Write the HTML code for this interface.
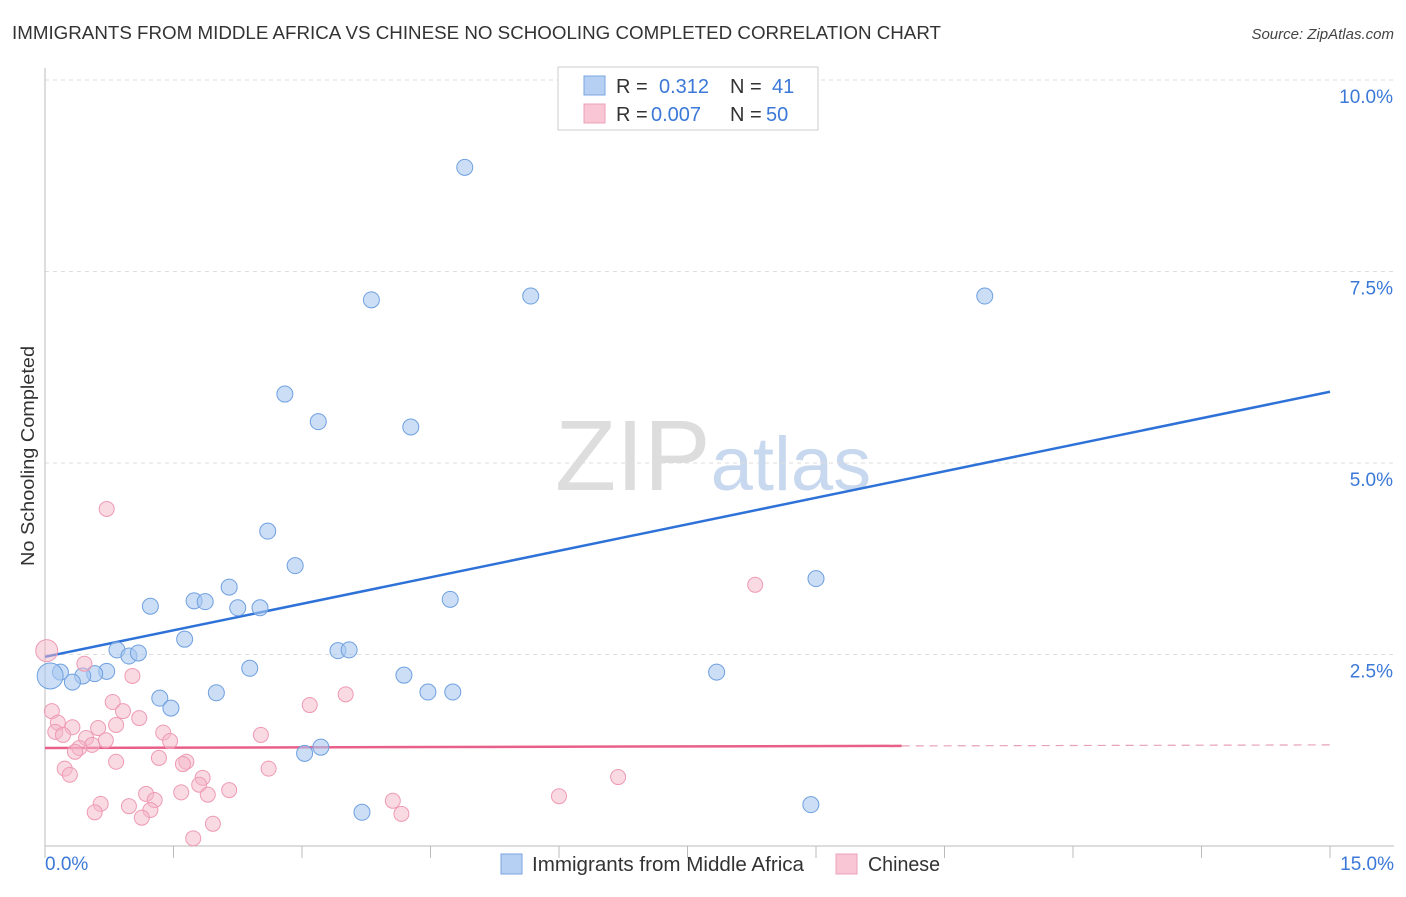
<!DOCTYPE html>
<html><head><meta charset="utf-8">
<style>
body{margin:0;background:#fff;font-family:"Liberation Sans",sans-serif;}
svg text{font-family:"Liberation Sans",sans-serif;}
</style></head>
<body>
<svg id="chart" width="1406" height="892" xmlns="http://www.w3.org/2000/svg">
<text x="12" y="39" font-size="18" fill="#333" textLength="929" lengthAdjust="spacingAndGlyphs">IMMIGRANTS FROM MIDDLE AFRICA VS CHINESE NO SCHOOLING COMPLETED CORRELATION CHART</text>
<text x="1394" y="39" font-size="15" fill="#444" font-style="italic" text-anchor="end">Source: ZipAtlas.com</text>
<text transform="translate(34,456) rotate(-90)" font-size="18" fill="#333" text-anchor="middle" textLength="220" lengthAdjust="spacingAndGlyphs">No Schooling Completed</text>
<text x="555" y="490" font-size="100" fill="#ddd" font-family="Liberation Serif"><tspan>ZIP</tspan><tspan fill="#c8d8ee" font-family="Liberation Sans" font-size="76">atlas</tspan></text>
<g id="grid"></g>
<g id="axes"></g>
<g id="trend"></g>
<g id="points"></g>
<g>
<rect x="558" y="67" width="260" height="63" fill="#fff" stroke="#ccc"/>
<rect x="584" y="76" width="21" height="19" fill="#b5d0f2" stroke="#7aa6e0"/>
<text x="616" y="93" font-size="20" fill="#333">R = </text><text x="659" y="93" font-size="20" fill="#3b78d8">0.312</text>
<text x="730" y="93" font-size="20" fill="#333">N = </text><text x="772" y="93" font-size="20" fill="#3b78d8">41</text>
<rect x="584" y="104" width="21" height="19" fill="#f8c6d4" stroke="#eea0b8"/>
<text x="616" y="121" font-size="20" fill="#333">R = </text><text x="651" y="121" font-size="20" fill="#3b78d8">0.007</text>
<text x="730" y="121" font-size="20" fill="#333">N = </text><text x="766" y="121" font-size="20" fill="#3b78d8">50</text>
</g>
<g>
<rect x="501" y="854" width="21" height="20" fill="#b5d0f2" stroke="#7aa6e0"/>
<text x="532" y="871" font-size="20" fill="#333" textLength="272" lengthAdjust="spacingAndGlyphs">Immigrants from Middle Africa</text>
<rect x="836" y="854" width="21" height="20" fill="#f8c6d4" stroke="#eea0b8"/>
<text x="868" y="871" font-size="20" fill="#333" textLength="72" lengthAdjust="spacingAndGlyphs">Chinese</text>
</g>
</svg>
<script>
const yTicks=[2.5,5,7.5,10];
const yTickLabels=["2.5%","5.0%","7.5%","10.0%"];
const xTickVals=[0,1.5,3,4.5,6,7.5,9,10.5,12,13.5,15];
const blueX=[4.90,3.81,5.67,10.97,2.80,3.19,4.27,2.60,2.92,9.00,4.73,1.23,1.74,1.87,2.15,2.25,2.51,1.63,0.84,0.98,1.09,3.42,3.55,2.39,7.84,4.19,0.72,0.58,0.44,0.32,0.18,0.06,1.34,1.47,2.00,4.47,4.76,3.22,3.03,3.70,8.94];
const blueY=[8.86,7.13,7.18,7.18,5.90,5.54,5.47,4.11,3.66,3.49,3.22,3.13,3.20,3.19,3.38,3.11,3.11,2.70,2.56,2.48,2.52,2.55,2.56,2.32,2.27,2.23,2.28,2.25,2.22,2.14,2.27,2.22,1.93,1.80,2.00,2.01,2.01,1.29,1.21,0.44,0.54];
const pinkX=[0.72,8.29,0.02,0.46,1.02,3.51,3.09,0.79,0.08,0.91,1.10,0.15,0.32,0.62,0.83,0.12,0.21,1.38,2.52,0.48,0.71,1.46,0.55,0.40,0.35,1.33,1.65,0.83,0.23,2.61,0.29,1.84,6.69,1.80,2.15,1.18,1.59,1.90,6.00,1.28,0.65,0.98,4.06,1.23,0.58,1.13,4.16,1.96,1.73,1.61];
const pinkY=[4.40,3.41,2.55,2.38,2.22,1.98,1.84,1.88,1.76,1.76,1.67,1.61,1.55,1.54,1.58,1.49,1.45,1.48,1.45,1.41,1.38,1.37,1.32,1.28,1.23,1.15,1.10,1.10,1.01,1.01,0.93,0.89,0.90,0.80,0.73,0.68,0.70,0.67,0.65,0.60,0.55,0.52,0.59,0.47,0.44,0.37,0.42,0.29,0.10,1.07];
const blueTrend=[2.47,5.93];
const pinkTrend=[1.28,1.32];
const pinkSolidEnd=10;

const X=v=>45+v*(1285/15);
const Y=v=>846-v*76.6;
const NS="http://www.w3.org/2000/svg";
function mk(parent,tag,attrs){const e=document.createElementNS(NS,tag);for(const k in attrs)e.setAttribute(k,attrs[k]);document.getElementById(parent).appendChild(e);return e;}

yTicks.forEach((t,i)=>{
  const l=mk('grid','line',{x1:45,x2:1394,y1:Y(t),y2:Y(t),stroke:'#ddd','stroke-dasharray':'4,4'});
  
  
  const tx=mk('grid','text',{x:1393,y:Y(t)+23,'font-size':19,fill:'#3b78d8','text-anchor':'end'});
  tx.textContent=yTickLabels[i];
  
  
});
const tl=mk('grid','line',{x1:45,x2:1394,y1:80,y2:80,stroke:'#ddd','stroke-dasharray':'4,4'});


const ya=mk('axes','line',{x1:45,x2:45,y1:68,y2:846,stroke:'#bbb'});


const xa=mk('axes','line',{x1:45,x2:1394,y1:846,y2:846,stroke:'#bbb'});


xTickVals.forEach(v=>{
  const t=mk('axes','line',{x1:X(v),x2:X(v),y1:846,y2:858,stroke:'#bbb'});
  
  
});
const x0=mk('axes','text',{x:45,y:870,'font-size':19,fill:'#3b78d8'});x0.textContent='0.0%';


const x1=mk('axes','text',{x:1394,y:870,'font-size':19,fill:'#3b78d8','text-anchor':'end'});x1.textContent='15.0%';



blueX.forEach((x,i)=>{
  const c=mk('points','circle',{cx:X(x),cy:Y(blueY[i]),r:(i==31?13:8),fill:'rgba(168,200,240,0.6)',stroke:'#6fa0e0','stroke-width':1});
  
  
});
pinkX.forEach((x,i)=>{
  const c=mk('points','circle',{cx:X(x),cy:Y(pinkY[i]),r:(i==2?11:7.5),fill:'rgba(244,182,200,0.5)',stroke:'#ee9ab4','stroke-width':1});
  
  
});
const bt=mk('trend','line',{x1:X(0),y1:Y(blueTrend[0]),x2:X(15),y2:Y(blueTrend[1]),stroke:'#2e72d8','stroke-width':2.5});


const pm=pinkTrend[0]+(pinkTrend[1]-pinkTrend[0])*pinkSolidEnd/15;
const pt=mk('trend','line',{x1:X(0),y1:Y(pinkTrend[0]),x2:X(pinkSolidEnd),y2:Y(pm),stroke:'#e8608a','stroke-width':2.5});


const pd=mk('trend','line',{x1:X(pinkSolidEnd),y1:Y(pm),x2:X(15),y2:Y(pinkTrend[1]),stroke:'#e8a0b8','stroke-width':1.2,'stroke-dasharray':'8,6'});


</script>
</body></html>
